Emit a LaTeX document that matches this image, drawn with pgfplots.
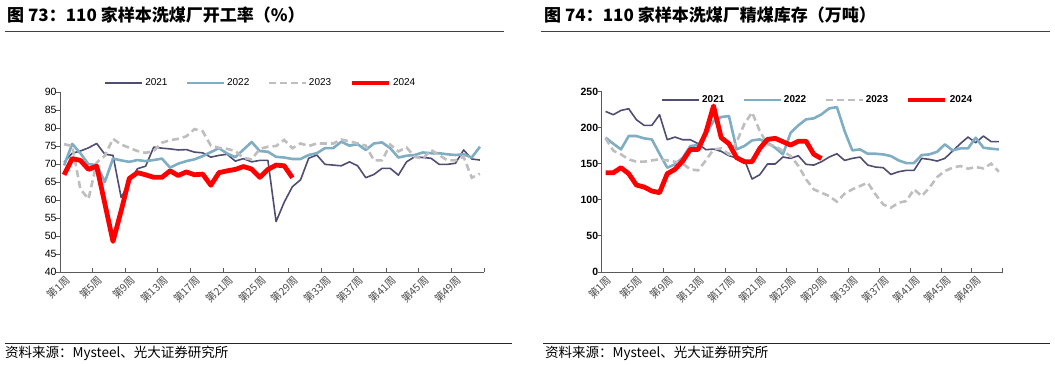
\documentclass[border=0pt]{standalone}
\usepackage{fontspec}
\setmainfont{Liberation Sans}
\newfontfamily\cjk{Noto Sans CJK SC}
\usepackage{pgfplots}
\usepackage{pgfplotstable}
\pgfplotsset{compat=1.18}
\definecolor{c21}{RGB}{78,78,115}
\definecolor{c22}{RGB}{126,173,196}
\definecolor{c23}{RGB}{190,190,190}
\definecolor{c24}{RGB}{255,0,0}
\definecolor{axc}{RGB}{90,90,90}

\pgfplotstableread{
w a21 a22 a23 a24
1 70.5 69.6 75.5 67.0
2 73.0 75.6 75.0 71.5
3 73.6 73.0 63.0 71.0
4 74.5 69.9 60.3 68.5
5 75.7 69.8 70.4 69.4
6 72.7 65.0 72.3 59.0
7 72.4 71.5 77.0 48.5
8 60.7 71.0 75.4 57.0
9 64.9 70.6 74.5 66.0
10 68.7 71.1 73.6 67.6
11 69.4 70.8 73.1 67.0
12 74.7 71.1 73.6 66.3
13 74.4 71.5 75.9 66.3
14 74.2 69.0 76.6 68.1
15 73.9 70.1 77.0 66.8
16 74.0 70.8 77.7 67.8
17 73.3 71.3 79.7 67.0
18 73.1 72.2 79.1 67.2
19 71.9 73.3 75.1 64.1
20 72.4 74.4 74.5 67.6
21 72.7 72.9 74.2 68.1
22 70.8 71.9 73.6 68.5
23 71.5 74.0 71.7 69.3
24 70.6 76.1 71.3 68.6
25 71.0 73.6 74.2 66.3
26 71.0 73.4 74.8 68.5
27 54.0 72.0 75.0 69.7
28 59.4 71.8 76.7 69.5
29 63.7 71.4 74.4 66.2
30 65.6 71.4 75.7 nan
31 71.6 72.5 75.0 nan
32 72.5 73.0 75.7 nan
33 69.9 74.4 75.7 nan
34 69.7 74.4 75.7 nan
35 69.5 76.2 76.8 nan
36 70.6 75.1 76.3 nan
37 69.5 75.5 75.7 nan
38 66.2 73.9 75.1 nan
39 67.1 75.7 71.0 nan
40 68.8 76.0 71.0 nan
41 68.8 74.4 75.4 nan
42 66.9 71.8 73.5 nan
43 70.6 72.3 74.6 nan
44 72.0 72.5 72.0 nan
45 71.8 73.2 71.5 nan
46 71.6 73.0 73.9 nan
47 69.9 73.0 72.5 nan
48 69.9 72.7 71.0 nan
49 70.2 72.5 71.0 nan
50 73.9 72.7 72.0 nan
51 71.4 71.8 66.2 nan
52 71.1 74.8 67.3 nan
}\lefttab

\pgfplotstableread{
w a21 a22 a23 a24
1 222.3 186.0 185.0 137.4
2 217.7 177.6 168.0 137.4
3 223.7 169.7 162.8 144.4
4 226.0 188.2 155.9 136.1
5 210.8 188.2 152.7 120.4
6 203.0 185.0 152.7 117.6
7 203.0 183.6 154.5 112.1
8 217.7 163.7 155.9 109.8
9 183.1 144.4 154.5 136.1
10 186.8 149.0 152.7 142.1
11 183.1 158.2 149.9 153.6
12 183.1 174.4 142.0 169.7
13 177.6 175.7 140.7 169.7
14 169.3 190.0 154.5 192.8
15 170.2 209.0 169.7 229.7
16 167.0 214.5 171.1 185.9
17 161.0 215.9 163.0 177.6
18 157.8 169.7 180.0 158.2
19 155.5 174.4 205.0 152.7
20 128.7 182.2 221.0 152.7
21 134.7 183.6 195.1 171.1
22 149.5 179.0 176.7 183.6
23 149.5 172.0 174.4 185.0
24 159.2 162.8 167.4 180.4
25 157.3 192.8 160.5 175.7
26 161.0 203.0 147.0 181.0
27 149.0 211.3 128.2 181.0
28 148.0 212.7 114.4 163.0
29 152.7 218.2 109.8 157.0
30 159.1 226.5 105.1 nan
31 163.7 228.3 97.3 nan
32 154.5 195.1 108.4 nan
33 157.3 168.4 114.4 nan
34 159.1 169.7 119.0 nan
35 148.0 163.7 123.6 nan
36 145.3 163.7 107.5 nan
37 144.4 162.8 93.6 nan
38 135.1 160.5 89.0 nan
39 138.8 154.5 95.9 nan
40 140.7 150.8 98.2 nan
41 140.7 150.8 114.4 nan
42 157.3 161.9 105.1 nan
43 155.9 162.8 116.7 nan
44 153.6 166.5 131.4 nan
45 157.3 176.7 139.8 nan
46 167.4 168.4 144.4 nan
47 177.6 171.1 146.7 nan
48 186.8 171.1 143.0 nan
49 179.0 185.9 145.3 nan
50 188.2 172.0 143.4 nan
51 180.4 170.7 149.9 nan
52 180.4 169.7 138.8 nan
}\righttab

\pgfplotsset{
  weekaxis/.style={
    scale only axis,
    anchor=south west,
    xmin=0.5, xmax=52.5,
    axis lines*=left,
    axis line style={axc, line width=0.8pt, -},
    tick style={axc, line width=0.8pt},
    major tick length=4pt,
    minor tick length=4pt,
    tick align=inside,
    ytick style={xshift=-4pt},
    xtick={1,5,...,49},
    xticklabels={第1周,第5周,第9周,第13周,第17周,第21周,第25周,第29周,第33周,第37周,第41周,第45周,第49周},
    major x tick style={draw=none},
    minor xtick={4.5,8.5,...,52.5},
    xticklabel style={font=\cjk\fontsize{10.5}{11}\selectfont, text=black!70, rotate=45, anchor=east, yshift=-7pt, xshift=2pt},
    /pgf/number format/assume math mode=true,
    clip=false,
    legend columns=4,
    legend image code/.code={\draw[##1] (0pt,0pt) -- (37pt,0pt);},
  },
  s21/.style={c21, line width=1.6pt, line join=round},
  s22/.style={c22, line width=2.6pt, line join=round},
  s23/.style={c23, line width=2.6pt, dash pattern=on 7pt off 4pt},
  s24/.style={c24, line width=4.8pt, line join=round},
}

\begin{document}
\begin{tikzpicture}[x=1pt,y=1pt]
\path[use as bounding box] (0,0) rectangle (1055,365);

% titles
\node[anchor=west, inner sep=0pt, font=\cjk\bfseries\fontsize{17}{19}\selectfont] at (7,350) {图 73：110 家样本洗煤厂开工率（\%）};
\draw[black!75, line width=1pt] (5,333.5) -- (504,333.5);
\node[anchor=west, inner sep=0pt, font=\cjk\bfseries\fontsize{17}{19}\selectfont] at (544,350) {图 74：110 家样本洗煤厂精煤库存（万吨）};
\draw[black!75, line width=1pt] (541,333.5) -- (1050,333.5);

% sources
\draw[black!85, line width=1pt] (5,22) -- (512,22);
\node[anchor=west, inner sep=0pt, font=\cjk\fontsize{13.5}{15}\selectfont] at (5,12) {资料来源：Mysteel、光大证券研究所};
\draw[black!85, line width=1pt] (543,22) -- (1050,22);
\node[anchor=west, inner sep=0pt, font=\cjk\fontsize{13.5}{15}\selectfont] at (545,12) {资料来源：Mysteel、光大证券研究所};

\begin{axis}[weekaxis,
  at={(60pt,93pt)}, width=424pt, height=180pt,
  ymin=40, ymax=90, ytick={40,45,...,90},
  yticklabel style={font=\fontsize{10.5}{12}\selectfont},
  legend style={draw=none, fill=none, at={(0.474,1.05)}, anchor=center,
    font=\fontsize{10}{12}\selectfont,
    /tikz/every even column/.append style={column sep=16pt}},
]
\addplot[s21] table[x=w,y=a21]{\lefttab};
\addplot[s22] table[x=w,y=a22]{\lefttab};
\addplot[s23] table[x=w,y=a23]{\lefttab};
\addplot[s24] table[x=w,y=a24]{\lefttab};
\legend{2021,2022,2023,2024}
\end{axis}

\begin{axis}[weekaxis,
  at={(601.7pt,93pt)}, width=401pt, height=180.6pt,
  ymin=0, ymax=250, ytick={0,50,...,250},
  yticklabel style={font=\bfseries\fontsize{10.5}{12}\selectfont},
  legend style={draw=none, fill=none, at={(0.539,0.952)}, anchor=center,
    font=\bfseries\fontsize{10}{12}\selectfont,
    /tikz/every even column/.append style={column sep=16pt}},
]
\addplot[s21] table[x=w,y=a21]{\righttab};
\addplot[s22] table[x=w,y=a22]{\righttab};
\addplot[s23] table[x=w,y=a23]{\righttab};
\addplot[s24] table[x=w,y=a24]{\righttab};
\legend{2021,2022,2023,2024}
\end{axis}
\end{tikzpicture}
\end{document}
